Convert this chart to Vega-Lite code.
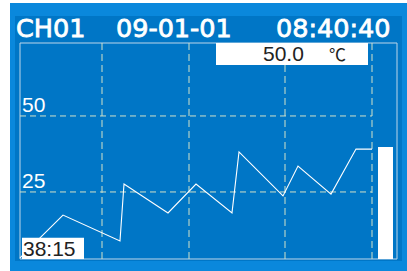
{
  "$schema": "https://vega.github.io/schema/vega-lite/v6.json",
  "width": 407,
  "height": 271,
  "autosize": {"type": "fit", "contains": "padding"},
  "padding": {"left": 10, "top": 3, "right": 0, "bottom": 0},
  "background": "#ffffff",
  "view": {"fill": "#0a88dc", "stroke": null},
  "config": {"axis": {"disable": true}},
  "layer": [
    {
      "data": {"values": [{"x0": 5, "x1": 392, "v0": 2.3, "v1": 82.9}]},
      "mark": {"type": "rect", "fill": "#0076c6"},
      "encoding": {
        "x": {"field": "x0", "type": "quantitative", "scale": {"domain": [0, 397], "nice": false, "zero": false}, "axis": null},
        "x2": {"field": "x1"},
        "y": {"field": "v0", "type": "quantitative", "scale": {"domain": [-1, 87.16], "nice": false, "zero": false}, "axis": null},
        "y2": {"field": "v1"}
      }
    },
    {
      "data": {"values": [{"x0": 10, "x1": 387, "v0": 2.95, "v1": 74.0}]},
      "mark": {"type": "rect", "fill": null, "stroke": "#bcd6ea", "strokeWidth": 1},
      "encoding": {
        "x": {"field": "x0", "type": "quantitative"},
        "x2": {"field": "x1"},
        "y": {"field": "v0", "type": "quantitative"},
        "y2": {"field": "v1"}
      }
    },
    {
      "data": {"values": [{"x": 92, "v0": 2.95, "v1": 74.0}, {"x": 179, "v0": 2.95, "v1": 74.0}, {"x": 275, "v0": 2.95, "v1": 74.0}, {"x": 362, "v0": 2.95, "v1": 74.0}]},
      "mark": {"type": "rule", "stroke": "#d2e2c8", "strokeWidth": 1, "strokeDash": [7, 4]},
      "encoding": {
        "x": {"field": "x", "type": "quantitative"},
        "y": {"field": "v0", "type": "quantitative"},
        "y2": {"field": "v1"}
      }
    },
    {
      "data": {"values": [{"v": 50, "x0": 10, "x1": 362}, {"v": 25, "x0": 10, "x1": 362}]},
      "mark": {"type": "rule", "stroke": "#d2e2c8", "strokeWidth": 1, "strokeDash": [6, 4]},
      "encoding": {
        "y": {"field": "v", "type": "quantitative"},
        "x": {"field": "x0", "type": "quantitative"},
        "x2": {"field": "x1"}
      }
    },
    {
      "data": {"values": [
        {"x": 10, "v": 3.3}, {"x": 30, "v": 9.9}, {"x": 53, "v": 17.4}, {"x": 110, "v": 8.9},
        {"x": 114, "v": 27.6}, {"x": 158, "v": 18.1}, {"x": 186, "v": 27.6}, {"x": 222, "v": 18.1},
        {"x": 229, "v": 38.2}, {"x": 273, "v": 23.7}, {"x": 288, "v": 33.5}, {"x": 321, "v": 24.3},
        {"x": 346, "v": 39.1}, {"x": 362, "v": 39.1}
      ]},
      "mark": {"type": "line", "color": "#ffffff", "strokeWidth": 1.1},
      "encoding": {
        "x": {"field": "x", "type": "quantitative"},
        "y": {"field": "v", "type": "quantitative"}
      }
    },
    {
      "data": {"values": [
        {"item": "bar", "x0": 368, "x1": 383, "v0": 2.95, "v1": 39.8},
        {"item": "value box", "x0": 206, "x1": 358, "v0": 66.8, "v1": 74.0},
        {"item": "time box", "x0": 12, "x1": 74, "v0": 2.95, "v1": 9.9}
      ]},
      "mark": {"type": "rect", "fill": "#ffffff"},
      "encoding": {
        "x": {"field": "x0", "type": "quantitative"},
        "x2": {"field": "x1"},
        "y": {"field": "v0", "type": "quantitative"},
        "y2": {"field": "v1"}
      }
    },
    {
      "data": {"values": [{"t": "CH01", "x": 6, "v": 76}, {"t": "09-01-01", "x": 106, "v": 76}, {"t": "08:40:40", "x": 266, "v": 76}]},
      "mark": {"type": "text", "font": "DejaVu Sans", "fontSize": 25.5, "fill": "#ffffff", "stroke": "#ffffff", "strokeWidth": 0.8, "align": "left", "baseline": "alphabetic"},
      "encoding": {
        "x": {"field": "x", "type": "quantitative"},
        "y": {"field": "v", "type": "quantitative"},
        "text": {"field": "t"}
      }
    },
    {
      "data": {"values": [{"t": "50", "x": 12, "v": 50}, {"t": "25", "x": 12, "v": 25}]},
      "mark": {"type": "text", "font": "Liberation Sans", "fontSize": 21, "fill": "#ffffff", "align": "left", "baseline": "alphabetic", "dy": -4},
      "encoding": {
        "x": {"field": "x", "type": "quantitative"},
        "y": {"field": "v", "type": "quantitative"},
        "text": {"field": "t"}
      }
    },
    {
      "data": {"values": [{"t": "38:15", "x": 13, "v": 3.94}, {"t": "50.0", "x": 253, "v": 68.08}]},
      "mark": {"type": "text", "font": "Liberation Sans", "fontSize": 21, "fill": "#222222", "align": "left", "baseline": "alphabetic"},
      "encoding": {
        "x": {"field": "x", "type": "quantitative"},
        "y": {"field": "v", "type": "quantitative"},
        "text": {"field": "t"}
      }
    },
    {
      "data": {"values": [{"t": "℃", "x": 319, "v": 68.08}]},
      "mark": {"type": "text", "font": "Noto Sans CJK SC", "fontSize": 17, "fill": "#222222", "align": "left", "baseline": "alphabetic"},
      "encoding": {
        "x": {"field": "x", "type": "quantitative"},
        "y": {"field": "v", "type": "quantitative"},
        "text": {"field": "t"}
      }
    }
  ]
}
